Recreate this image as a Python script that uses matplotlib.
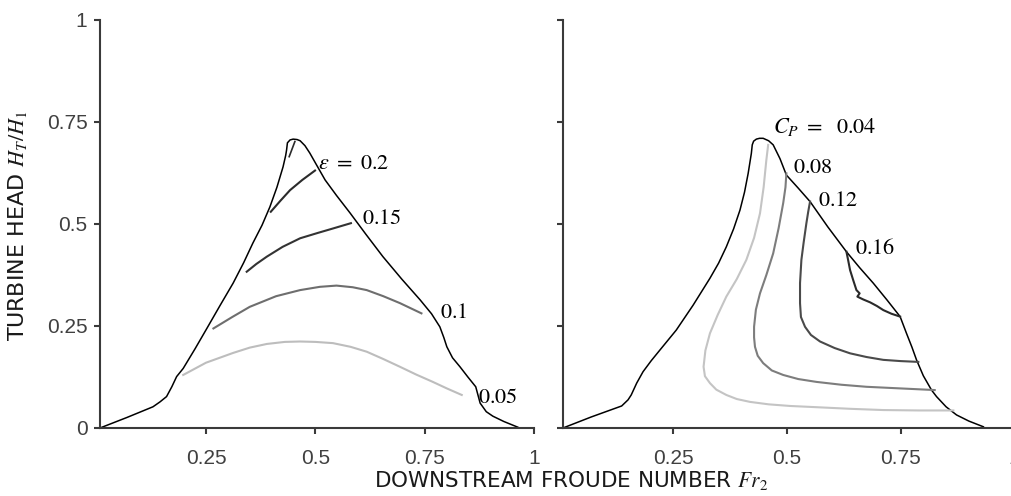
import matplotlib
matplotlib.use("Agg")
import matplotlib.pyplot as plt
import numpy as np

plt.rcParams['mathtext.fontset'] = 'stix'

# feasible-region outline, left panel (Fr2, HT/H1)
left_bnd_x = [0.008, 0.070, 0.129, 0.145, 0.160, 0.172, 0.183, 0.198, 0.225, 0.252, 0.282,
              0.312, 0.336, 0.357, 0.378, 0.396, 0.412, 0.426, 0.432, 0.434, 0.436, 0.442,
              0.449, 0.458, 0.465, 0.476, 0.487, 0.505, 0.522, 0.548, 0.579, 0.615, 0.654,
              0.697, 0.739, 0.765, 0.784, 0.793, 0.800, 0.813, 0.830, 0.848, 0.866, 0.876,
              0.890, 0.905, 0.930, 0.962]
left_bnd_y = [0.000, 0.026, 0.052, 0.064, 0.077, 0.101, 0.126, 0.146, 0.194, 0.244, 0.300,
              0.355, 0.405, 0.453, 0.497, 0.542, 0.590, 0.640, 0.668, 0.681, 0.699, 0.706,
              0.708, 0.707, 0.704, 0.692, 0.674, 0.640, 0.608, 0.570, 0.527, 0.475, 0.420,
              0.365, 0.314, 0.280, 0.248, 0.222, 0.199, 0.172, 0.150, 0.125, 0.101, 0.061,
              0.040, 0.029, 0.016, 0.002]

# efficiency contours
eps_005_x = [0.198, 0.250, 0.312, 0.350, 0.389, 0.430, 0.465, 0.500, 0.540, 0.580, 0.617,
             0.655, 0.693, 0.730, 0.768, 0.800, 0.834]
eps_005_y = [0.130, 0.160, 0.184, 0.197, 0.206, 0.211, 0.212, 0.211, 0.208, 0.199, 0.187,
             0.169, 0.150, 0.131, 0.113, 0.097, 0.081]
eps_01_x = [0.267, 0.310, 0.350, 0.410, 0.465, 0.510, 0.548, 0.585, 0.617, 0.655, 0.693, 0.742]
eps_01_y = [0.244, 0.272, 0.297, 0.323, 0.338, 0.346, 0.349, 0.345, 0.338, 0.323, 0.306, 0.281]
eps_015_x = [0.343, 0.365, 0.389, 0.425, 0.465, 0.505, 0.540, 0.562, 0.581]
eps_015_y = [0.383, 0.402, 0.420, 0.444, 0.465, 0.478, 0.489, 0.496, 0.502]
eps_02_x = [0.398, 0.420, 0.442, 0.470, 0.499]
eps_02_y = [0.530, 0.557, 0.583, 0.608, 0.631]
eps_025_x = [0.440, 0.453]
eps_025_y = [0.665, 0.702]

# outline, right panel
right_bnd_x = [0.008, 0.070, 0.137, 0.151, 0.158, 0.170, 0.184, 0.202, 0.221, 0.257, 0.294,
               0.331, 0.350, 0.367, 0.383, 0.397, 0.407, 0.415, 0.422, 0.424, 0.427, 0.433,
               0.440, 0.448, 0.460, 0.470, 0.485, 0.499, 0.525, 0.551, 0.590, 0.631, 0.660,
               0.690, 0.720, 0.749, 0.763, 0.775, 0.785, 0.800, 0.818, 0.829, 0.850, 0.873,
               0.900, 0.932]
right_bnd_y = [0.000, 0.027, 0.054, 0.069, 0.081, 0.110, 0.138, 0.165, 0.191, 0.240, 0.301,
               0.367, 0.404, 0.444, 0.488, 0.534, 0.578, 0.624, 0.673, 0.694, 0.703, 0.708,
               0.710, 0.710, 0.704, 0.694, 0.660, 0.620, 0.588, 0.555, 0.493, 0.432, 0.393,
               0.355, 0.314, 0.273, 0.232, 0.198, 0.167, 0.128, 0.093, 0.077, 0.052, 0.032,
               0.017, 0.003]

# power coefficient contours
cp_004_x = [0.459, 0.455, 0.449, 0.441, 0.428, 0.411, 0.390, 0.367, 0.348, 0.331, 0.321,
            0.317, 0.320, 0.331, 0.345, 0.367, 0.390, 0.419, 0.460, 0.507, 0.565, 0.640,
            0.712, 0.790, 0.866]
cp_004_y = [0.694, 0.657, 0.590, 0.526, 0.466, 0.412, 0.365, 0.322, 0.277, 0.232, 0.190,
            0.150, 0.127, 0.110, 0.094, 0.081, 0.071, 0.064, 0.058, 0.054, 0.051, 0.047,
            0.044, 0.043, 0.043]
cp_008_x = [0.499, 0.497, 0.492, 0.482, 0.470, 0.455, 0.441, 0.432, 0.428, 0.428, 0.430,
            0.436, 0.448, 0.467, 0.492, 0.525, 0.565, 0.620, 0.675, 0.750, 0.825]
cp_008_y = [0.624, 0.590, 0.551, 0.490, 0.428, 0.375, 0.330, 0.290, 0.248, 0.222, 0.199,
            0.177, 0.159, 0.141, 0.130, 0.120, 0.113, 0.106, 0.101, 0.097, 0.093]
cp_012_x = [0.551, 0.547, 0.543, 0.537, 0.532, 0.529, 0.529, 0.531, 0.540, 0.553, 0.573,
            0.605, 0.639, 0.675, 0.712, 0.750, 0.789]
cp_012_y = [0.555, 0.530, 0.502, 0.455, 0.412, 0.355, 0.306, 0.272, 0.248, 0.228, 0.212,
            0.196, 0.183, 0.174, 0.167, 0.164, 0.162]
cp_016_x = [0.631, 0.635, 0.639, 0.646, 0.653, 0.660, 0.655, 0.668, 0.683, 0.698, 0.712,
            0.730, 0.749]
cp_016_y = [0.432, 0.410, 0.387, 0.362, 0.338, 0.330, 0.322, 0.315, 0.308, 0.299, 0.289,
            0.280, 0.273]

ticks = [0, 0.25, 0.5, 0.75, 1]
tick_labels = ['0', '0.25', '0.5', '0.75', '1']

fig = plt.figure(figsize=(10.12, 4.96), dpi=100)
ax1 = fig.add_axes([0.0988, 0.1371, 0.4293, 0.8226])
ax2 = fig.add_axes([0.5563, 0.1371, 0.4460, 0.8226])

spine_c = '#3a3a3a'
tick_font = dict(fontsize=15, color='#404040', family='Liberation Sans')
for ax in (ax1, ax2):
    ax.set_xlim(0.008, 1)
    ax.set_ylim(0, 1)
    for s in ('top', 'right'):
        ax.spines[s].set_visible(False)
    for s in ('left', 'bottom'):
        ax.spines[s].set_linewidth(1.5)
        ax.spines[s].set_color(spine_c)
    ax.set_xticks(ticks[1:])
    ax.set_xticklabels(tick_labels[1:], **tick_font)
    ax.set_yticks(ticks)
    ax.tick_params(direction='out', length=4, width=1.5, color=spine_c)
    ax.tick_params(axis='x', pad=11)
    ax.tick_params(axis='y', pad=5)

ax1.set_yticklabels(tick_labels, **tick_font)
ax2.set_yticklabels([])

# left panel
ax1.plot(left_bnd_x, left_bnd_y, color='black', lw=1.1)
ax1.plot(eps_005_x, eps_005_y, color='#bdbdbd', lw=1.5)
ax1.plot(eps_01_x, eps_01_y, color='#6e6e6e', lw=1.5)
ax1.plot(eps_015_x, eps_015_y, color='#333333', lw=1.5)
ax1.plot(eps_02_x, eps_02_y, color='#2b2b2b', lw=1.5)
ax1.plot(eps_025_x, eps_025_y, color='#2b2b2b', lw=1.2)

lab_kw = dict(fontsize=16, va='center', ha='left')
ax1.text(0.506, 0.650, r'$\varepsilon\ =\ 0.2$', **lab_kw)
ax1.text(0.606, 0.515, r'$0.15$', **lab_kw)
ax1.text(0.784, 0.284, r'$0.1$', **lab_kw)
ax1.text(0.871, 0.076, r'$0.05$', **lab_kw)

# right panel
ax2.plot(right_bnd_x, right_bnd_y, color='black', lw=1.1)
ax2.plot(cp_004_x, cp_004_y, color='#c4c4c4', lw=1.5)
ax2.plot(cp_008_x, cp_008_y, color='#7d7d7d', lw=1.5)
ax2.plot(cp_012_x, cp_012_y, color='#4a4a4a', lw=1.5)
ax2.plot(cp_016_x, cp_016_y, color='#2a2a2a', lw=1.5)

ax2.text(0.469, 0.738, r'$C_P\ =\ \ 0.04$', **lab_kw)
ax2.text(0.514, 0.640, r'$0.08$', **lab_kw)
ax2.text(0.569, 0.559, r'$0.12$', **lab_kw)
ax2.text(0.650, 0.440, r'$0.16$', **lab_kw)

fig.text(18 / 1012, 1 - 226 / 496, r'TURBINE HEAD $H_T/H_1$', rotation=90,
         ha='center', va='center', fontsize=16, color='#1a1a1a')
fig.text(571 / 1012, 1 - 480 / 496, r'DOWNSTREAM FROUDE NUMBER $Fr_2$',
         ha='center', va='center', fontsize=15.5, color='#1a1a1a')

fig.savefig('out.png', dpi=100)
